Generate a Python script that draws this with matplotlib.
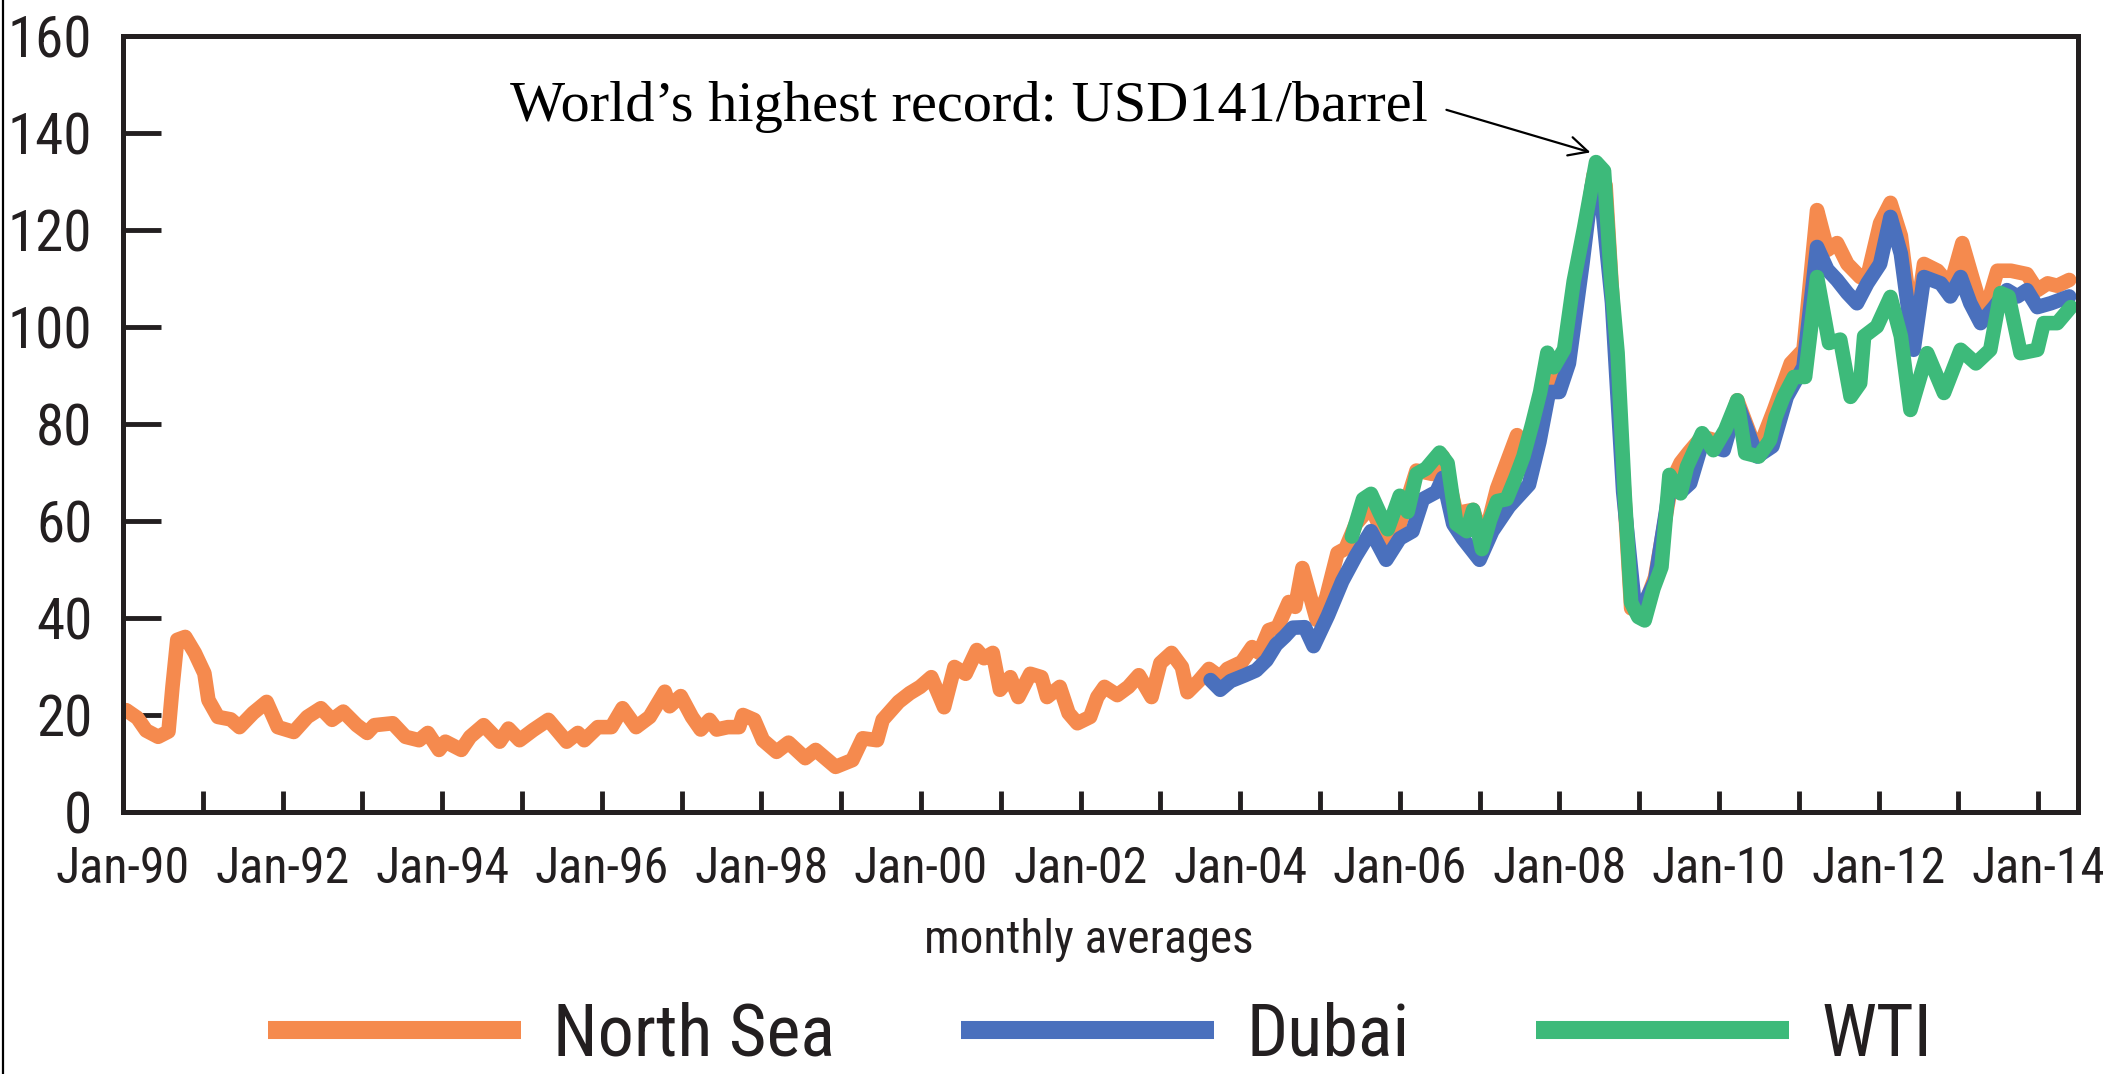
import matplotlib
matplotlib.use("Agg")
import matplotlib.pyplot as plt
from matplotlib import font_manager
from matplotlib.lines import Line2D


# Monthly average crude prices (USD/barrel)
north_sea_t = [1990.04, 1990.18, 1990.29, 1990.44, 1990.57, 1990.62, 1990.68, 1990.78, 1990.90,
               1991.02, 1991.07, 1991.19, 1991.35, 1991.46, 1991.63, 1991.80, 1991.94,
               1992.14, 1992.31, 1992.48, 1992.62, 1992.76, 1992.93,
               1993.06, 1993.15, 1993.38, 1993.54, 1993.71, 1993.82, 1993.96,
               1994.04, 1994.24, 1994.35, 1994.52, 1994.72, 1994.83, 1994.97,
               1995.14, 1995.33, 1995.56, 1995.70, 1995.78, 1995.95,
               1996.12, 1996.26, 1996.43, 1996.60, 1996.79, 1996.85, 1996.99,
               1997.13, 1997.24, 1997.35, 1997.44, 1997.58, 1997.72, 1997.77, 1997.91,
               1998.02, 1998.19, 1998.34, 1998.55, 1998.68, 1998.93,
               1999.14, 1999.27, 1999.45, 1999.52, 1999.72, 1999.86, 1999.99,
               2000.13, 2000.29, 2000.42, 2000.56, 2000.70, 2000.79, 2000.90, 2000.99,
               2001.12, 2001.22, 2001.37, 2001.51, 2001.58, 2001.74, 2001.85, 2001.96,
               2002.12, 2002.21, 2002.30, 2002.46, 2002.60, 2002.73, 2002.89,
               2003.00, 2003.14, 2003.27, 2003.34, 2003.48, 2003.61, 2003.75, 2003.84,
               2004.02, 2004.15, 2004.24, 2004.36, 2004.47, 2004.61, 2004.69, 2004.78, 2004.96,
               2005.08, 2005.22, 2005.32, 2005.45, 2005.64, 2005.83,
               2006.00, 2006.21, 2006.41, 2006.54, 2006.71, 2006.92,
               2007.05, 2007.22, 2007.47, 2007.64, 2007.80, 2007.93,
               2008.06, 2008.22, 2008.43, 2008.58, 2008.68, 2008.82, 2008.90,
               2009.00, 2009.10, 2009.20, 2009.41, 2009.52, 2009.62, 2009.79,
               2010.06, 2010.23, 2010.48, 2010.69, 2010.90,
               2011.06, 2011.23, 2011.36, 2011.48, 2011.61, 2011.77, 2011.86,
               2012.02, 2012.15, 2012.28, 2012.44, 2012.57, 2012.74, 2012.90,
               2013.05, 2013.15, 2013.32, 2013.49, 2013.66, 2013.86, 2013.99,
               2014.12, 2014.24, 2014.39]
north_sea_v = [21.0, 19.4, 16.8, 15.5, 16.6, 25.8, 35.5, 36.1, 32.8,
               28.6, 23.1, 19.6, 19.1, 17.5, 20.4, 22.7, 17.5,
               16.5, 19.6, 21.4, 19.0, 20.7, 17.9,
               16.3, 17.9, 18.3, 15.5, 14.8, 16.3, 12.8,
               14.5, 12.8, 15.5, 17.9, 14.5, 17.2, 14.8,
               16.9, 19.0, 14.5, 16.3, 14.8, 17.5,
               17.5, 21.4, 17.5, 19.6, 24.8, 21.8, 23.9,
               19.6, 17.0, 19.0, 17.0, 17.5, 17.5, 20.0, 19.0,
               14.8, 12.4, 14.3, 11.1, 12.8, 9.3,
               10.7, 15.2, 14.8, 19.0, 22.7, 24.5, 25.8,
               27.8, 21.6, 29.9, 28.5, 33.4, 31.7, 32.8, 25.2,
               27.8, 23.7, 28.5, 27.8, 23.7, 25.8, 20.4, 18.3,
               19.6, 23.7, 25.8, 24.1, 25.8, 28.2, 23.7,
               30.7, 32.8, 29.9, 24.7, 27.0, 29.5, 27.8, 29.5,
               30.9, 34.0, 32.8, 37.5, 38.1, 43.3, 42.3, 50.3, 39.6,
               44.3, 53.4, 54.3, 59.4, 63.0, 55.7,
               59.4, 70.4, 69.7, 73.3, 61.6, 62.3,
               55.7, 66.7, 77.7, 72.6, 85.8, 91.0,
               91.7, 108.6, 131.4, 129.2, 102.0, 64.0, 42.0,
               41.5, 44.0, 48.4, 68.2, 72.0, 74.1, 77.4,
               76.1, 84.9, 74.0, 82.9, 92.5,
               95.3, 124.1, 115.9, 117.3, 113.0, 110.3, 110.3,
               121.4, 125.6, 118.8, 98.0, 113.0, 111.6, 108.5,
               117.3, 111.6, 102.1, 111.6, 111.6, 110.9, 107.6,
               109.0, 108.5, 109.7]

dubai_t = [2003.63, 2003.75, 2003.88, 2004.06, 2004.20, 2004.33, 2004.45, 2004.56, 2004.66, 2004.81, 2004.92,
           2005.10, 2005.28, 2005.45, 2005.64, 2005.83,
           2006.00, 2006.16, 2006.29, 2006.46, 2006.54, 2006.67, 2006.79,
           2007.00, 2007.16, 2007.37, 2007.62, 2007.75, 2007.87,
           2008.00, 2008.12, 2008.29, 2008.41, 2008.52, 2008.66, 2008.80, 2008.95,
           2009.05, 2009.20, 2009.38, 2009.52, 2009.64, 2009.79,
           2010.06, 2010.23, 2010.48, 2010.67, 2010.85,
           2011.06, 2011.23, 2011.36, 2011.48, 2011.61, 2011.73, 2011.86,
           2012.02, 2012.15, 2012.28, 2012.44, 2012.57, 2012.78, 2012.90,
           2013.03, 2013.15, 2013.28, 2013.45, 2013.61, 2013.74, 2013.86, 2013.99,
           2014.16, 2014.39]
dubai_v = [27.2, 25.2, 27.0, 28.2, 29.2, 31.3, 34.5, 36.2, 38.0, 38.1, 34.2,
           40.5, 47.6, 52.8, 57.9, 52.0,
           56.4, 57.9, 64.5, 66.0, 68.9, 59.4, 56.4,
           52.0, 57.9, 63.0, 67.5, 76.3, 86.6,
           86.6, 92.5, 113.1, 129.2, 127.8, 105.0, 66.0, 41.7,
           42.5, 47.6, 66.5, 66.0, 67.8, 76.1,
           74.6, 84.3, 73.3, 75.4, 85.6,
           91.8, 116.5, 111.8, 109.7, 107.0, 104.9, 109.0,
           113.0, 122.7, 115.1, 95.3, 110.3, 109.0, 106.3,
           110.3, 104.9, 100.8, 104.1, 107.6, 106.3, 107.6, 104.1,
           104.9, 106.3]

wti_t = [2005.40, 2005.54, 2005.64, 2005.75, 2005.85,
         2006.00, 2006.10, 2006.21, 2006.33, 2006.50, 2006.60, 2006.71, 2006.84, 2006.92,
         2007.03, 2007.13, 2007.22, 2007.34, 2007.45, 2007.55, 2007.66, 2007.76, 2007.85, 2007.93,
         2008.06, 2008.18, 2008.31, 2008.46, 2008.56, 2008.65, 2008.73, 2008.82, 2008.90, 2008.99,
         2009.07, 2009.18, 2009.28, 2009.38, 2009.52, 2009.60, 2009.79, 2009.93,
         2010.08, 2010.23, 2010.33, 2010.50, 2010.64, 2010.71, 2010.81, 2010.94,
         2011.08, 2011.23, 2011.38, 2011.52, 2011.65, 2011.77, 2011.82, 2011.98,
         2012.15, 2012.28, 2012.40, 2012.61, 2012.82,
         2013.03, 2013.22, 2013.40, 2013.53, 2013.63, 2013.78, 2013.99,
         2014.07, 2014.24, 2014.41]
wti_v = [56.8, 64.5, 65.6, 61.6, 58.3,
         65.2, 61.9, 69.7, 70.8, 74.1, 71.9, 59.4, 57.9, 62.3,
         54.2, 60.1, 64.1, 64.5, 68.9, 73.3, 80.0, 86.6, 94.7, 91.7,
         95.4, 109.4, 120.4, 134.0, 132.2, 109.4, 94.7, 65.2, 43.2, 40.2,
         39.5, 46.1, 50.5, 69.5, 65.7, 71.2, 78.1, 74.6,
         78.8, 84.9, 74.0, 73.3, 76.7, 81.4, 85.6, 89.7,
         89.7, 110.3, 96.7, 97.4, 85.6, 88.4, 98.1, 100.1,
         106.2, 98.1, 82.9, 94.6, 86.4,
         95.3, 92.5, 95.3, 107.0, 106.3, 94.6, 95.3,
         100.8, 100.8, 104.1]

series_names = ["North Sea", "Dubai", "WTI"]
series_colors = ["#F58A4E", "#4A70BD", "#3DBA7A"]

y_ticks = [0, 20, 40, 60, 80, 100, 120, 140, 160]
x_tick_years = list(range(1990, 2015))
x_tick_labels = ["Jan-%02d" % (y % 100) if y % 2 == 0 else "" for y in x_tick_years]

peak_value = 134.0
peak_time = 2008.46


def pick_font(candidates, fallback="DejaVu Sans"):
    """Return the first installed font family from the list."""
    installed = {f.name for f in font_manager.fontManager.ttflist}
    for name in candidates:
        if name in installed:
            return name
    return fallback


sans = pick_font(["Liberation Sans Narrow", "Roboto Condensed", "Arial Narrow", "Liberation Sans"])
serif = pick_font(["Liberation Serif", "DejaVu Serif"])
ink = "#231F20"

fig = plt.figure(figsize=(21.03, 10.74), dpi=100)
ax = fig.add_axes([123 / 2103, 1 - 812 / 1074, (2078 - 123) / 2103, (812 - 36) / 1074])

line_kw = dict(lw=10.5, solid_capstyle="round", solid_joinstyle="round")
ax.plot(north_sea_t, north_sea_v, color=series_colors[0], label=series_names[0], **line_kw)
ax.plot(dubai_t, dubai_v, color=series_colors[1], label=series_names[1], **line_kw)
ax.plot(wti_t, wti_v, color=series_colors[2], label=series_names[2], **line_kw)

ax.set_xlim(1990, 2014.5)
ax.set_ylim(0, 160)

for side in ["left", "right", "top", "bottom"]:
    ax.spines[side].set_linewidth(3.6)
    ax.spines[side].set_color(ink)

ax.set_yticks(y_ticks)
ax.set_yticklabels([str(v) for v in y_ticks], fontfamily=sans, fontsize=41, color=ink)
ax.tick_params(axis="y", direction="in", length=27, width=3.5, color=ink, pad=22)

ax.set_xticks(x_tick_years)
ax.set_xticklabels(x_tick_labels, fontfamily=sans, fontsize=36, color=ink)
ax.tick_params(axis="x", direction="in", length=15, width=3.5, color=ink, pad=24)

fig.text(1089 / 2103, 1 - 940 / 1074, "monthly averages", ha="center", va="center",
         fontfamily=sans, fontsize=34, color=ink)

ax.annotate("World\u2019s highest record: USD141/barrel",
            xy=(peak_time - 0.07, peak_value + 2.0), xytext=(2006.35, 142.5),
            ha="right", va="baseline", fontfamily=serif, fontsize=42, color="black",
            arrowprops=dict(arrowstyle="->", color="black", lw=1.6, relpos=(1.0, 0.55),
                            mutation_scale=34, shrinkA=12, shrinkB=0))

leg = fig.legend(loc="center", bbox_to_anchor=(1100 / 2103, 1 - 1036 / 1074), ncol=3,
                 frameon=False, prop={"family": sans, "size": 52},
                 handlelength=3.5, handletextpad=0.45, columnspacing=1.75,
                 borderpad=0.1)
for line in leg.get_lines():
    line.set_linewidth(13)
    line.set_solid_capstyle("butt")
for txt in leg.get_texts():
    txt.set_color(ink)

# thin frame line down the left edge of the image
fig.add_artist(Line2D([0.0016, 0.0016], [0, 1], transform=fig.transFigure, color="black", lw=1.6))

fig.savefig("out.png", dpi=100)
